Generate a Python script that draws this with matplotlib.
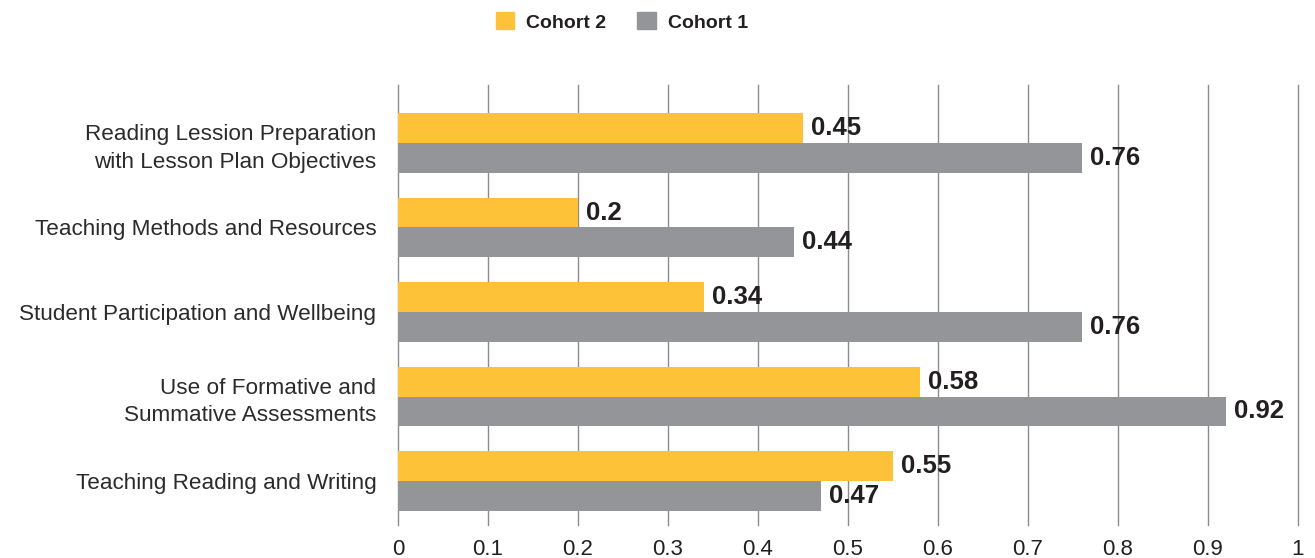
import matplotlib
matplotlib.use("Agg")
import matplotlib.pyplot as plt
from matplotlib.patches import Patch
import numpy as np

categories = [
    "Reading Lession Preparation\nwith Lesson Plan Objectives",
    "Teaching Methods and Resources",
    "Student Participation and Wellbeing",
    "Use of Formative and\nSummative Assessments",
    "Teaching Reading and Writing",
]
cohort2 = [0.45, 0.2, 0.34, 0.58, 0.55]
cohort1 = [0.76, 0.44, 0.76, 0.92, 0.47]
xticks = [0, 0.1, 0.2, 0.3, 0.4, 0.5, 0.6, 0.7, 0.8, 0.9, 1]
xtick_labels = ["0", "0.1", "0.2", "0.3", "0.4", "0.5", "0.6", "0.7", "0.8", "0.9", "1"]

YELLOW = "#FEC239"
GRAY = "#939598"
TEXT = "#231F20"

plt.rcParams["font.family"] = ["Liberation Sans", "DejaVu Sans"]

W, H = 1315, 558
fig = plt.figure(figsize=(W / 100, H / 100), dpi=100)
ax = fig.add_axes([398 / W, 1 - 525 / H, 900 / W, 440 / H])

y = np.arange(len(categories))
h = 0.35
ax.barh(y - h / 2, cohort2, height=h, color=YELLOW, zorder=3)
ax.barh(y + h / 2, cohort1, height=h, color=GRAY, zorder=3)

for yi, v in zip(y - h / 2, cohort2):
    ax.text(v + 0.009, yi, f"{v:g}", va="center", ha="left",
            fontsize=18.5, fontweight="bold", color=TEXT, zorder=4)
for yi, v in zip(y + h / 2, cohort1):
    ax.text(v + 0.009, yi, f"{v:g}", va="center", ha="left",
            fontsize=18.5, fontweight="bold", color=TEXT, zorder=4)

ax.set_xlim(0, 1)
ax.set_ylim(4.52, -0.686)
for xv in xticks:
    ax.axvline(xv, color="#8c8c8c", lw=1.0, zorder=1, clip_on=False)

ax.set_xticks(xticks)
ax.set_xticklabels(xtick_labels, fontsize=16, color=TEXT)
ax.set_yticks(y)
ax.set_yticklabels(categories, fontsize=16.2, color="#2b2b2b", ha="right",
                   linespacing=1.38)
ax.tick_params(axis="x", length=0, pad=10)
ax.tick_params(axis="y", length=0, pad=15.5)
for s in ax.spines.values():
    s.set_visible(False)

handles = [Patch(color=YELLOW, label="Cohort 2"), Patch(color=GRAY, label="Cohort 1")]
leg = fig.legend(handles=handles, loc="center", bbox_to_anchor=(622 / W, 1 - 22 / H),
                 ncol=2, frameon=False, handlelength=0.95, handleheight=0.95,
                 handletextpad=0.62, columnspacing=1.6,
                 prop={"size": 14, "weight": "bold"})
for t in leg.get_texts():
    t.set_color(TEXT)

fig.savefig("out.png", dpi=100)
